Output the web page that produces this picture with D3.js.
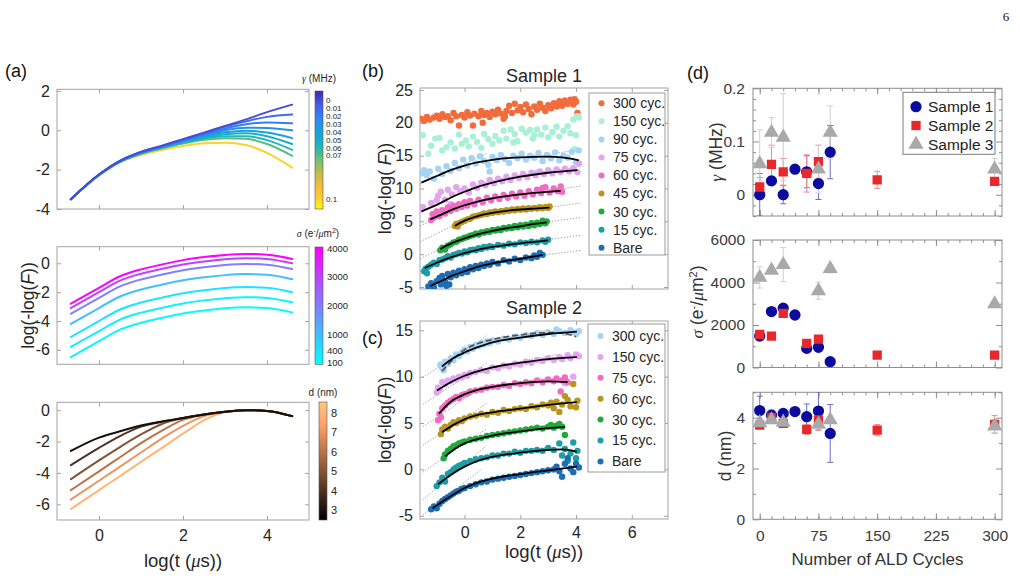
<!DOCTYPE html>
<html>
<head>
<meta charset="utf-8">
<script src="https://d3js.org/d3.v7.min.js"></script>
<style>
html,body{margin:0;padding:0;background:#fff;}
svg{display:block;}
</style>
</head>
<body>
<svg id="chart" width="1020" height="578"></svg>
<script>
// ======================= DATA =======================
const tGrid = [-0.67, 0, 0.5, 1, 1.5, 2, 2.5, 3, 3.5, 4, 4.6];

const gammaValues = [0, 0.01, 0.02, 0.03, 0.04, 0.05, 0.06, 0.07, 0.1];
const gammaTickLabels = ["0", "0.01", "0.02", "0.03", "0.04", "0.05", "0.06", "0.07", "0.1"];
const gammaCurves = [
  [-3.5, -2.25, -1.55, -1.1, -0.78, -0.45, -0.12, 0.22, 0.55, 0.92, 1.3],
  [-3.5, -2.25, -1.55, -1.1, -0.8, -0.47, -0.15, 0.17, 0.45, 0.68, 0.8],
  [-3.5, -2.25, -1.56, -1.12, -0.81, -0.5, -0.2, 0.08, 0.3, 0.4, 0.35],
  [-3.5, -2.26, -1.57, -1.13, -0.83, -0.53, -0.25, 0.0, 0.13, 0.12, 0.0],
  [-3.5, -2.26, -1.58, -1.15, -0.85, -0.56, -0.3, -0.1, -0.02, -0.12, -0.4],
  [-3.5, -2.27, -1.59, -1.17, -0.87, -0.6, -0.36, -0.2, -0.15, -0.3, -0.7],
  [-3.5, -2.27, -1.6, -1.18, -0.9, -0.63, -0.42, -0.3, -0.3, -0.5, -1.0],
  [-3.5, -2.28, -1.61, -1.2, -0.92, -0.67, -0.48, -0.4, -0.43, -0.7, -1.3],
  [-3.5, -2.3, -1.63, -1.25, -1.0, -0.8, -0.66, -0.63, -0.75, -1.15, -1.9]
];

const sigmaValues = [4000, 3000, 2000, 1000, 400, 200, 100];
const sigmaTicks = [100, 400, 1000, 2000, 3000, 4000];
const sigmaCurves = [
  [-2.8, -1.7, -0.9, -0.42, -0.08, 0.22, 0.43, 0.58, 0.65, 0.6, 0.3],
  [-3.1, -2.0, -1.2, -0.72, -0.38, -0.08, 0.13, 0.28, 0.35, 0.3, 0.0],
  [-3.5, -2.4, -1.6, -1.12, -0.78, -0.48, -0.27, -0.12, -0.05, -0.1, -0.4],
  [-4.2, -3.1, -2.3, -1.82, -1.48, -1.18, -0.97, -0.82, -0.75, -0.8, -1.1],
  [-5.1, -4.0, -3.2, -2.72, -2.38, -2.08, -1.87, -1.72, -1.65, -1.7, -2.0],
  [-5.8, -4.7, -3.9, -3.42, -3.08, -2.78, -2.57, -2.42, -2.35, -2.4, -2.7],
  [-6.5, -5.4, -4.6, -4.12, -3.78, -3.48, -3.27, -3.12, -3.05, -3.1, -3.4]
];

const thickValues = [3, 4, 5, 6, 7, 8];
const thickTicks = [3, 4, 5, 6, 7, 8];
const thickCurves = [
  [-2.6, -1.75, -1.35, -0.98, -0.72, -0.5, -0.28, -0.1, 0.0, -0.05, -0.38],
  [-3.5, -2.4, -1.65, -1.05, -0.74, -0.5, -0.28, -0.1, 0.0, -0.05, -0.38],
  [-4.4, -3.2, -2.35, -1.55, -0.88, -0.52, -0.28, -0.1, 0.0, -0.05, -0.38],
  [-5.1, -3.9, -3.0, -2.1, -1.3, -0.62, -0.3, -0.1, 0.0, -0.05, -0.38],
  [-5.7, -4.5, -3.6, -2.7, -1.8, -1.0, -0.38, -0.11, 0.0, -0.05, -0.38],
  [-6.3, -5.1, -4.2, -3.3, -2.4, -1.5, -0.65, -0.12, -0.01, -0.05, -0.38]
];

// ---- Panel (b): Sample 1 ----
const s1Labels = ["300 cyc.", "150 cyc.", "90 cyc.", "75 cyc.", "60 cyc.", "45 cyc.", "30 cyc.", "15 cyc.", "Bare"];
const s1_300 = [[-1.55,20.6],[-1.45,20.3],[-1.35,20.9],[-1.25,20.5],[-1.1,20.8],[-1.0,21.1],[-0.9,20.6],[-0.8,21.3],[-0.7,20.9],[-0.6,21.0],[-0.5,20.4],[-0.4,21.5],[-0.3,21.0],[-0.2,19.6],[-0.1,21.2],[0.0,20.8],[0.1,21.6],[0.2,21.1],[0.3,19.6],[0.35,21.4],[0.5,21.0],[0.6,21.8],[0.65,20.0],[0.7,21.2],[0.8,21.5],[0.9,20.9],[1.0,21.7],[1.1,21.3],[1.2,22.0],[1.3,21.4],[1.4,20.6],[1.45,21.0],[1.5,21.8],[1.6,22.6],[1.7,21.5],[1.8,22.9],[1.9,21.9],[2.0,22.4],[2.1,21.6],[2.2,22.8],[2.3,22.1],[2.4,21.3],[2.5,22.5],[2.6,22.0],[2.7,22.9],[2.8,22.3],[2.9,21.8],[3.0,22.7],[3.1,22.2],[3.2,23.0],[3.3,22.5],[3.4,23.3],[3.5,22.6],[3.6,23.4],[3.7,22.9],[3.8,23.5],[3.9,22.8],[3.95,23.6],[4.0,23.2],[4.05,21.5]];
const s1_150 = [[-1.5,18.1],[-1.3,15.3],[-1.2,16.5],[-1.05,17.6],[-0.9,17.7],[-0.8,15.8],[-0.65,16.3],[-0.5,17.0],[-0.35,16.1],[-0.2,18.2],[-0.1,16.8],[0.05,17.3],[0.15,16.4],[0.3,17.9],[0.45,17.1],[0.6,16.2],[0.7,18.3],[0.85,17.5],[1.0,16.8],[1.1,18.0],[1.25,17.3],[1.4,18.8],[1.5,17.6],[1.65,19.0],[1.75,17.0],[1.8,18.3],[1.9,17.2],[2.05,19.1],[2.2,18.5],[2.35,18.9],[2.45,17.6],[2.5,18.1],[2.6,19.0],[2.75,18.2],[2.9,19.3],[3.0,17.8],[3.15,18.6],[3.3,19.4],[3.4,17.9],[3.55,18.8],[3.7,19.5],[3.8,18.4],[3.9,20.5],[3.95,16.0],[4.0,18.1],[4.05,21.0],[4.1,20.8]];
const s1_90 = [[-1.55,12.3],[-1.45,12.8],[-1.35,12.0],[-1.25,12.6],[-1.1,11.5],[-0.95,13.0],[-0.8,12.2],[-0.65,13.4],[-0.5,12.7],[-0.35,13.9],[-0.2,13.1],[-0.05,14.4],[0.1,13.5],[0.25,14.6],[0.4,13.8],[0.55,14.9],[0.7,14.2],[0.85,13.6],[0.9,12.6],[1.0,14.8],[1.15,14.3],[1.3,15.1],[1.45,14.5],[1.6,13.9],[1.75,15.0],[1.9,14.6],[2.05,15.3],[2.2,14.4],[2.35,15.0],[2.5,14.7],[2.6,12.4],[2.65,15.4],[2.8,14.2],[2.95,15.1],[3.1,14.6],[3.25,15.5],[3.4,14.3],[3.55,15.0],[3.7,14.7],[3.85,15.6],[4.0,14.0],[4.1,15.8]];
const s1_75 = [[-1.6,6.8],[-1.5,7.2],[-1.2,7.8],[-1.0,8.2],[-0.95,8.9],[-0.85,9.5],[-0.7,8.3],[-0.6,9.8],[-0.5,7.6],[-0.45,9.1],[-0.3,10.2],[-0.15,9.6],[0.0,10.0],[0.15,9.4],[0.3,10.6],[0.45,10.1],[0.6,10.9],[0.75,10.5],[0.9,11.3],[1.05,10.8],[1.2,11.5],[1.35,11.1],[1.5,11.8],[1.65,11.3],[1.8,12.0],[1.95,11.6],[2.1,12.2],[2.25,11.7],[2.4,12.4],[2.55,12.0],[2.7,12.6],[2.85,12.2],[3.0,12.8],[3.15,12.3],[3.3,12.9],[3.45,12.5],[3.6,13.0],[3.75,12.6],[3.9,13.1],[4.05,12.5],[4.1,13.8]];
const s1_60 = [[-1.2,5.2],[-1.15,6.1],[-1.1,5.6],[-1.0,6.5],[-0.9,5.8],[-0.8,6.7],[-0.7,6.2],[-0.6,7.1],[-0.5,6.6],[-0.4,7.4],[-0.3,6.9],[-0.2,7.6],[-0.1,7.2],[0.0,7.9],[0.1,7.4],[0.2,8.1],[0.35,7.6],[0.5,8.3],[0.65,7.9],[0.8,8.6],[0.95,8.2],[1.1,8.8],[1.25,8.4],[1.4,9.0],[1.55,8.6],[1.7,9.2],[1.85,8.8],[2.0,9.4],[2.15,8.9],[2.3,9.6],[2.45,9.1],[2.6,9.8],[2.75,9.3],[2.8,10.1],[2.9,10.2],[3.05,9.4],[3.2,10.0],[3.35,9.6],[3.45,10.3],[3.5,9.5]];
const s1_45 = [[-0.35,4.3],[-0.3,4.6],[-0.25,4.2],[-0.2,4.7],[-0.1,4.9],[0.0,5.1],[0.1,5.3],[0.2,5.4],[0.3,5.7],[0.4,5.8],[0.5,5.9],[0.6,6.0],[0.7,6.2],[0.8,6.1],[0.9,6.35],[1.0,6.3],[1.1,6.5],[1.2,6.4],[1.3,6.55],[1.4,6.5],[1.5,6.7],[1.6,6.6],[1.7,6.8],[1.8,6.7],[1.9,6.9],[2.0,6.75],[2.1,6.95],[2.2,6.8],[2.3,7.0],[2.4,6.9],[2.5,7.05],[2.6,6.95],[2.7,7.15],[2.8,7.0],[2.9,7.2],[3.0,7.05],[3.05,7.25]];
const s1_30 = [[-0.87,0.6],[-0.8,1.0],[-0.7,0.7],[-0.6,1.3],[-0.5,1.5],[-0.4,1.8],[-0.3,1.9],[-0.2,2.2],[-0.1,2.3],[0.0,2.5],[0.1,2.6],[0.2,2.8],[0.3,2.9],[0.4,3.1],[0.5,3.0],[0.6,3.3],[0.7,3.3],[0.8,3.5],[0.9,3.4],[1.0,3.7],[1.1,3.6],[1.2,3.8],[1.3,3.7],[1.4,4.0],[1.5,3.9],[1.6,4.1],[1.7,4.0],[1.8,4.3],[1.9,4.1],[2.0,4.4],[2.1,4.2],[2.2,4.5],[2.3,4.3],[2.4,4.7],[2.5,4.4],[2.6,4.8],[2.7,4.6],[2.8,5.1],[2.9,4.7],[2.95,5.0]];
const s1_15 = [[-1.45,-2.6],[-1.4,-2.2],[-1.35,-2.9],[-1.3,-1.9],[-1.2,-1.6],[-1.1,-1.3],[-1.0,-1.5],[-0.9,-0.9],[-0.8,-0.8],[-0.7,-0.6],[-0.6,-0.3],[-0.5,-0.5],[-0.4,-0.1],[-0.3,0.0],[-0.2,0.2],[-0.1,0.1],[0.0,0.4],[0.1,0.3],[0.2,0.6],[0.3,0.7],[0.4,0.6],[0.5,0.9],[0.6,0.8],[0.7,1.1],[0.8,1.0],[0.9,1.2],[1.0,1.1],[1.2,1.4],[1.4,1.3],[1.6,1.6],[1.8,1.5],[2.0,1.8],[2.2,1.7],[2.4,1.9],[2.6,1.8],[2.8,2.1],[2.9,1.9],[3.0,2.2]];
const s1_bare = [[-1.3,-4.9],[-1.2,-4.4],[-1.1,-5.0],[-1.0,-4.1],[-0.9,-3.6],[-0.85,-4.6],[-0.8,-3.3],[-0.7,-4.2],[-0.65,-4.8],[-0.6,-3.0],[-0.55,-4.6],[-0.5,-3.5],[-0.4,-2.8],[-0.3,-3.2],[-0.2,-2.5],[-0.1,-2.9],[0.0,-2.3],[0.1,-2.7],[0.2,-2.0],[0.3,-2.3],[0.4,-1.8],[0.5,-2.1],[0.6,-1.6],[0.7,-1.8],[0.8,-1.4],[0.9,-1.6],[1.0,-1.2],[1.2,-1.4],[1.4,-0.9],[1.6,-1.1],[1.8,-0.7],[2.0,-0.9],[2.2,-0.5],[2.4,-0.6],[2.5,-0.2],[2.6,-0.4],[2.7,0.2],[2.8,-0.1]];

const f1_90 = [[-1.55,10.9],[-1,11.9],[-0.5,12.8],[0,13.5],[0.5,14.0],[1,14.35],[2,14.75],[3,14.85],[3.5,14.75],[4.1,14.3]];
const f1_75 = [[-1.55,6.5],[-1,7.5],[-0.5,8.6],[0,9.5],[0.5,10.3],[1,10.9],[2,11.8],[3,12.4],[4.05,12.8]];
const f1_60 = [[-1.23,5.3],[-0.8,6.1],[-0.4,6.85],[0,7.45],[0.5,8.05],[1,8.5],[2,9.1],[3,9.5],[3.45,9.65]];
const f1_45 = [[-0.35,4.3],[0,5.1],[0.5,5.85],[1,6.3],[1.5,6.6],[2,6.8],[2.5,6.95],[3.05,7.1]];
const f1_30 = [[-0.87,0.8],[-0.5,1.6],[0,2.4],[0.5,3.05],[1,3.55],[1.5,3.95],[2,4.25],[2.5,4.6],[2.95,4.85]];
const f1_15 = [[-1.43,-2.1],[-1,-1.3],[-0.5,-0.5],[0,0.15],[0.5,0.7],[1,1.1],[2,1.65],[3,2.1]];
const f1_bare = [[-1.23,-4.85],[-0.8,-4.0],[-0.4,-3.2],[0,-2.6],[0.5,-1.9],[1,-1.4],[1.5,-1.0],[2,-0.7],[2.5,-0.35],[2.8,-0.1]];
const a1Lines = [
  [-1.6,10.7,0.8,15.3],[2.2,14.6,4.2,16.0],
  [-1.6,6.3,0.6,10.8],[2.2,11.9,4.2,13.4],
  [-1.6,4.3,0.5,8.4],[2.2,9.1,4.2,10.4],
  [-1.6,1.9,0.6,6.4],[2.8,7.0,4.2,7.8],
  [-1.6,-0.7,0.5,3.7],[2.6,4.7,4.2,5.6],
  [-1.6,-2.6,0.4,1.2],[2.6,2.0,4.2,2.9],
  [-1.6,-5.6,0.5,-1.6],[2.4,-0.4,4.2,0.6]
];

// ---- Panel (c): Sample 2 ----
const s2Labels = ["300 cyc.", "150 cyc.", "75 cyc.", "60 cyc.", "30 cyc.", "15 cyc.", "Bare"];
const s2_300 = [[-0.87,11.3],[-0.8,10.9],[-0.75,10.7],[-0.7,11.6],[-0.6,11.4],[-0.5,12.0],[-0.4,11.8],[-0.3,12.4],[-0.2,12.2],[-0.1,12.6],[0.0,12.9],[0.1,12.7],[0.2,13.2],[0.3,13.0],[0.4,13.4],[0.5,13.3],[0.6,13.6],[0.7,13.5],[0.8,13.8],[0.9,13.6],[1.0,13.9],[1.2,13.8],[1.4,14.1],[1.6,14.0],[1.8,14.3],[2.0,14.2],[2.2,14.5],[2.4,14.4],[2.6,14.7],[2.8,14.5],[3.0,14.8],[3.2,14.6],[3.3,15.1],[3.4,14.9],[3.6,14.7],[3.8,15.0],[3.9,14.8],[4.0,14.6],[4.1,14.9]];
const s2_150 = [[-1.0,8.3],[-0.95,8.8],[-0.9,8.6],[-0.8,9.4],[-0.7,9.2],[-0.6,9.6],[-0.5,9.5],[-0.4,9.8],[-0.3,9.7],[-0.2,10.0],[-0.1,9.9],[0.0,10.2],[0.1,10.1],[0.2,10.4],[0.4,10.5],[0.6,10.7],[0.8,10.6],[1.0,11.0],[1.2,10.9],[1.4,11.2],[1.6,11.1],[1.8,11.4],[2.0,11.3],[2.2,11.6],[2.4,11.5],[2.6,11.8],[2.8,11.7],[3.0,12.0],[3.2,11.8],[3.4,12.1],[3.5,11.9],[3.6,9.3],[3.7,12.3],[3.8,12.0],[3.9,10.0],[4.0,12.4],[4.1,12.2]];
const s2_75 = [[-0.95,5.3],[-0.9,6.0],[-0.85,5.6],[-0.8,6.6],[-0.7,6.9],[-0.6,7.2],[-0.5,7.4],[-0.4,7.6],[-0.3,7.8],[-0.2,7.7],[-0.1,8.0],[0.0,8.1],[0.1,8.2],[0.2,8.4],[0.4,8.5],[0.6,8.6],[0.8,8.8],[1.0,8.9],[1.2,8.9],[1.4,9.1],[1.6,9.0],[1.8,9.3],[2.0,9.2],[2.2,9.4],[2.4,9.3],[2.6,9.6],[2.8,9.4],[3.0,9.7],[3.2,9.5],[3.3,9.8],[3.45,8.4],[3.5,9.6],[3.6,9.9],[3.7,9.4]];
const s2_60 = [[-0.85,3.8],[-0.8,4.3],[-0.7,4.6],[-0.6,4.4],[-0.5,4.8],[-0.4,5.1],[-0.3,5.0],[-0.2,5.3],[-0.1,5.2],[0.0,5.5],[0.2,5.7],[0.4,5.8],[0.6,6.0],[0.8,5.9],[1.0,6.2],[1.2,6.1],[1.4,6.4],[1.6,6.3],[1.8,6.5],[2.0,6.6],[2.2,6.5],[2.4,6.8],[2.6,6.7],[2.8,7.0],[3.0,6.9],[3.1,7.2],[3.2,6.6],[3.3,7.3],[3.4,6.2],[3.5,7.0],[3.6,7.9],[3.7,7.5],[3.8,6.8],[3.9,9.2],[4.0,6.7],[4.05,7.4]];
const s2_30 = [[-0.75,1.2],[-0.7,1.6],[-0.6,2.0],[-0.5,2.2],[-0.4,2.5],[-0.3,2.6],[-0.2,2.8],[-0.1,2.9],[0.0,3.0],[0.2,3.2],[0.4,3.3],[0.6,3.4],[0.8,3.6],[1.0,3.7],[1.2,3.8],[1.4,3.9],[1.6,4.0],[1.8,4.1],[2.0,4.2],[2.2,4.3],[2.4,4.4],[2.6,4.5],[2.8,4.4],[3.0,4.6],[3.1,4.8],[3.2,4.5],[3.3,4.7],[3.4,4.9],[3.5,4.6],[3.6,3.7]];
const s2_15 = [[-1.0,-1.8],[-0.9,-1.4],[-0.8,-0.9],[-0.7,-1.3],[-0.6,-0.5],[-0.5,-0.3],[-0.4,0.0],[-0.3,0.2],[-0.2,0.4],[-0.1,0.5],[0.0,0.7],[0.2,0.9],[0.4,1.1],[0.6,1.2],[0.8,1.3],[1.0,1.5],[1.2,1.5],[1.4,1.7],[1.6,1.7],[1.8,1.9],[2.0,1.8],[2.2,2.0],[2.4,2.0],[2.6,2.1],[2.8,2.0],[3.0,2.3],[3.2,2.1],[3.4,2.8],[3.5,1.5],[3.6,2.2],[3.7,0.9],[3.8,1.7],[3.9,2.9],[4.0,1.2],[4.05,2.0]];
const s2_bare = [[-1.2,-4.3],[-1.1,-4.0],[-1.0,-4.2],[-0.9,-3.7],[-0.8,-3.4],[-0.7,-3.2],[-0.6,-3.0],[-0.5,-2.8],[-0.4,-2.6],[-0.3,-2.4],[-0.2,-2.3],[-0.1,-2.1],[0.0,-2.0],[0.2,-1.8],[0.4,-1.6],[0.6,-1.4],[0.8,-1.3],[1.0,-1.1],[1.2,-1.0],[1.4,-0.9],[1.6,-0.8],[1.8,-0.7],[2.0,-0.6],[2.2,-0.5],[2.4,-0.4],[2.6,-0.3],[2.8,-0.2],[3.0,-0.1],[3.2,0.0],[3.3,0.3],[3.4,-0.2],[3.5,-0.8],[3.6,0.6],[3.7,1.2],[3.8,0.1],[3.9,-0.3],[4.0,0.6],[4.1,0.2]];

const f2_300 = [[-0.81,11.1],[-0.4,12.0],[0,12.6],[0.5,13.2],[1,13.7],[2,14.2],[3,14.6],[4.03,14.85]];
const f2_300dash = [[-0.81,10.6],[-0.4,11.9],[0,12.9],[0.5,13.6],[1,14.0],[2,14.5],[3,14.75],[3.5,14.7],[4.0,14.3]];
const f2_150 = [[-0.99,8.5],[-0.5,9.4],[0,10.1],[0.5,10.6],[1,11.0],[2,11.5],[3,11.9],[4.03,12.1]];
const f2_75 = [[-0.92,6.0],[-0.5,7.3],[0,8.1],[0.5,8.6],[1,8.9],[2,9.3],[3,9.5],[3.7,9.4]];
const f2_60 = [[-0.81,4.0],[-0.4,4.8],[0,5.4],[0.5,5.9],[1,6.15],[2,6.55],[3,6.95],[4.03,7.25]];
const f2_30 = [[-0.7,1.4],[-0.3,2.3],[0,2.8],[0.5,3.3],[1,3.65],[2,4.1],[3,4.45],[3.6,4.55]];
const f2_15 = [[-0.95,-1.6],[-0.5,-0.6],[0,0.3],[0.5,0.95],[1,1.35],[2,1.8],[3,2.1],[3.5,2.15],[4.03,1.9]];
const f2_bare = [[-1.15,-4.2],[-0.5,-2.9],[0,-2.0],[0.5,-1.4],[1,-1.0],[2,-0.5],[3,-0.1],[4.03,0.3]];
const a2Lines = [
  [-1.5,9.9,0.8,14.4],[0.2,13.3,3.0,15.1],
  [-1.5,7.0,0.8,11.5],[0.4,10.7,3.3,12.4],
  [-1.5,4.6,0.8,9.2],[0.2,8.5,3.0,9.9],
  [-1.5,2.6,0.8,7.1],[0.2,5.8,3.0,7.2],
  [-1.5,-0.3,0.8,4.4],[0.2,3.2,3.0,4.8],
  [-1.5,-3.3,0.8,2.6],[0.2,0.9,3.0,2.4],
  [-1.5,-4.9,0.6,0.0],[0.2,-1.6,3.0,0.1]
];

// ---- Panel (d) ----
const cycles1 = [0, 15, 30, 45, 60, 75, 90];
const gamma1 = [0.0, 0.026, 0.0, 0.048, 0.043, 0.021, 0.08];
const gamma1Err = [0.04, 0.008, 0.017, 0.005, 0.03, 0.03, 0.05];
const sigma1 = [1480, 2630, 2790, 2470, 900, 950, 270];
const sigma1Err = [80, 80, 80, 80, 80, 80, 80];
const thick1 = [4.28, 4.1, 4.17, 4.24, 4.04, 4.26, 3.38];
const thick1Err = [0.57, 0.2, 0.1, 0.05, 0.5, 0.75, 1.14];

const cycles2 = [0, 15, 30, 60, 75, 150, 300];
const gamma2 = [0.0145, 0.057, 0.043, 0.04, 0.062, 0.028, 0.025];
const gamma2Err = [0.018, 0.036, 0.025, 0.035, 0.031, 0.016, 0.004];
const sigma2 = [1560, 1480, 2550, 1130, 1340, 580, 580];
const sigma2Err = [60, 60, 60, 60, 60, 60, 60];
const thick2 = [3.71, 4.01, 3.78, 3.54, 3.91, 3.51, 3.74];
const thick2Err = [0.1, 0.1, 0.15, 0.2, 0.4, 0.22, 0.35];

const cycles3 = [0, 15, 30, 75, 90, 300];
const gamma3 = [0.058, 0.117, 0.108, 0.048, 0.117, 0.048];
const gamma3Err = [0.064, 0.028, 0.082, 0.045, 0.05, 0.02];
const sigma3 = [4240, 4570, 4840, 3610, 4650, 2990];
const sigma3Err = [500, 80, 800, 400, 200, 100];
const thick3 = [3.8, 3.91, 3.82, 3.74, 3.91, 3.67];
const thick3Err = [0.1, 0.1, 0.2, 0.1, 0.1, 0.25];
const sampleNames = ["Sample 1", "Sample 2", "Sample 3"];

// ======================= STYLE / HELPERS =======================
const FONT = "'Liberation Sans', Arial, Helvetica, sans-serif";
const SERIF = "'Liberation Serif', 'DejaVu Serif', 'Times New Roman', serif";
const TXT = "#262626";
const svg = d3.select("#chart");
const defs = svg.append("defs");

function styleAx(s, stroke, fill, fs) {
  s.select(".domain").remove();
  s.selectAll(".tick line").attr("stroke", stroke).attr("stroke-width", 1);
  s.selectAll(".tick text").attr("fill", fill).attr("font-size", fs).attr("font-family", FONT);
}
const fmtPlain = d => String(d);
const noLab = () => "";

function matlabAxes(x, y, xt, yt, showX, padX) {
  const g = svg.append("g");
  const [xa, xb] = x.range(), [yb, ya] = y.range();
  const st = "#a3a3a3";
  const fs = 16;
  g.append("g").attr("transform", `translate(0,${yb})`)
    .call(d3.axisBottom(x).tickValues(xt).tickSize(-4).tickPadding(padX || 9).tickFormat(showX ? fmtPlain : noLab))
    .call(s => styleAx(s, st, TXT, fs));
  g.append("g").attr("transform", `translate(0,${ya})`)
    .call(d3.axisTop(x).tickValues(xt).tickSize(-4).tickFormat(noLab)).call(s => styleAx(s, st, TXT, fs));
  g.append("g").attr("transform", `translate(${xa},0)`)
    .call(d3.axisLeft(y).tickValues(yt).tickSize(-4).tickPadding(7).tickFormat(fmtPlain))
    .call(s => styleAx(s, st, TXT, fs));
  g.append("g").attr("transform", `translate(${xb},0)`)
    .call(d3.axisRight(y).tickValues(yt).tickSize(-4).tickFormat(noLab)).call(s => styleAx(s, st, TXT, fs));
  g.append("rect").attr("x", xa).attr("y", ya).attr("width", xb - xa).attr("height", yb - ya)
    .attr("fill", "none").attr("stroke", st).attr("stroke-width", 1);
  return g;
}

function mmaAxes(x, y, xMaj, xMin, yMaj, yMin, showX, yFmt) {
  const g = svg.append("g");
  const [xa, xb] = x.range(), [yb, ya] = y.range();
  const st = "#8e8e8e";
  const add = (tr, axis) => g.append("g").attr("transform", tr).call(axis).call(s => styleAx(s, st, "#3a3a3a", 15.5));
  add(`translate(0,${yb})`, d3.axisBottom(x).tickValues(xMin).tickSize(-3).tickFormat(noLab));
  add(`translate(0,${yb})`, d3.axisBottom(x).tickValues(xMaj).tickSize(-6).tickPadding(11).tickFormat(showX ? fmtPlain : noLab));
  add(`translate(0,${ya})`, d3.axisTop(x).tickValues(xMin).tickSize(-3).tickFormat(noLab));
  add(`translate(0,${ya})`, d3.axisTop(x).tickValues(xMaj).tickSize(-6).tickFormat(noLab));
  add(`translate(${xa},0)`, d3.axisLeft(y).tickValues(yMin).tickSize(-3).tickFormat(noLab));
  add(`translate(${xa},0)`, d3.axisLeft(y).tickValues(yMaj).tickSize(-6).tickPadding(8).tickFormat(yFmt));
  add(`translate(${xb},0)`, d3.axisRight(y).tickValues(yMin).tickSize(-3).tickFormat(noLab));
  add(`translate(${xb},0)`, d3.axisRight(y).tickValues(yMaj).tickSize(-6).tickFormat(noLab));
  g.append("rect").attr("x", xa).attr("y", ya).attr("width", xb - xa).attr("height", yb - ya)
    .attr("fill", "none").attr("stroke", st).attr("stroke-width", 1);
  return g;
}

function richText(parent, x, y, parts, opts) {
  const t = parent.append("text")
    .attr("transform", opts.rotate ? `translate(${x},${y}) rotate(-90)` : `translate(${x},${y})`)
    .attr("text-anchor", opts.anchor || "middle")
    .attr("font-size", opts.fs).attr("font-family", FONT).attr("fill", opts.fill || TXT);
  parts.forEach(p => {
    const ts = t.append("tspan").text(p.t);
    if (p.i) ts.attr("font-style", "italic");
    if (p.serif) ts.attr("font-family", SERIF);
    if (p.fs) ts.attr("font-size", p.fs);
    if (p.dy) ts.attr("dy", p.dy);
  });
  return t;
}

function clipRect(id, x, y) {
  const [xa, xb] = x.range(), [yb, ya] = y.range();
  defs.append("clipPath").attr("id", id).append("rect")
    .attr("x", xa).attr("y", ya).attr("width", xb - xa).attr("height", yb - ya);
  return `url(#${id})`;
}

function gradient(id, fn, n) {
  const gr = defs.append("linearGradient").attr("id", id)
    .attr("x1", 0).attr("y1", 0).attr("x2", 0).attr("y2", 1);
  for (let k = 0; k <= n; k++) gr.append("stop").attr("offset", k / n).attr("stop-color", fn(k / n));
  return `url(#${id})`;
}

// ======================= PANEL (a) =======================
const xA = d3.scaleLinear().domain([-1, 5]).range([57, 309]);
const yA1 = d3.scaleLinear().domain([-4, 2.08]).range([209, 89.3]);
const yA2 = d3.scaleLinear().domain([-7, 1.15]).range([364.3, 246.7]);
const yA3 = d3.scaleLinear().domain([-7, 0.5]).range([520, 402.3]);

const parula = d3.scaleLinear()
  .domain([0, 0.12, 0.25, 0.37, 0.45, 0.52, 0.58, 0.7, 0.8, 0.9, 1])
  .range(["#3e26a8", "#4a5cf0", "#2a8cec", "#15a6d8", "#18b3c4", "#3dba9c", "#72bf72", "#c2bd4a", "#f4bb3c", "#fccb30", "#f9f90f"])
  .interpolate(d3.interpolateRgb);
const gammaFrac = d3.scaleLinear().domain([0, 0.07, 0.1]).range([0.082, 0.548, 0.918]);
const coolColor = t => d3.rgb(255 * t, 255 * (1 - t), 255).formatHex();
const sigmaT = d3.scaleLinear().domain([0, 4000]).range([0, 1]);
const copperColor = t => d3.rgb(Math.min(255, 255 * 1.25 * t), 255 * 0.7812 * t, 255 * 0.4975 * t).formatHex();
const thickT = d3.scaleLinear().domain([2.5, 8.55]).range([0, 1]);

const lineA = y => d3.line().x(d => xA(d[0])).y(d => y(d[1])).curve(d3.curveMonotoneX);
const toPts = arr => tGrid.map((t, i) => [t, arr[i]]);

matlabAxes(xA, yA1, [0, 2, 4], [-4, -2, 0, 2], false);
matlabAxes(xA, yA2, [0, 2, 4], [-6, -4, -2, 0], false);
matlabAxes(xA, yA3, [0, 2, 4], [-6, -4, -2, 0], true, 10);

const gA = svg.append("g").attr("fill", "none").attr("stroke-width", 2).attr("stroke-linecap", "round");
for (let i = gammaCurves.length - 1; i >= 0; i--)
  gA.append("path").attr("d", lineA(yA1)(toPts(gammaCurves[i]))).attr("stroke", parula(gammaFrac(gammaValues[i])));
for (let i = sigmaCurves.length - 1; i >= 0; i--)
  gA.append("path").attr("d", lineA(yA2)(toPts(sigmaCurves[i]))).attr("stroke", coolColor(sigmaT(sigmaValues[i])));
for (let i = thickCurves.length - 1; i >= 0; i--)
  gA.append("path").attr("d", lineA(yA3)(toPts(thickCurves[i]))).attr("stroke", copperColor(thickT(thickValues[i])));

// colorbars
const cb1 = {x: 315, y: 91, w: 8, h: 118};
svg.append("rect").attr("x", cb1.x).attr("y", cb1.y).attr("width", cb1.w).attr("height", cb1.h)
  .attr("fill", gradient("gParula", t => parula(t), 40)).attr("stroke", "#555").attr("stroke-width", 0.6);
gammaValues.forEach((v, i) => {
  svg.append("text").attr("x", cb1.x + 11).attr("y", cb1.y + gammaFrac(v) * cb1.h).attr("dy", "0.35em")
    .attr("font-size", 8).attr("font-family", FONT).attr("fill", TXT).text(gammaTickLabels[i]);
});
richText(svg, 319, 82, [{t: "γ", i: 1, serif: 1}, {t: " (MHz)"}], {fs: 10});

const cb2 = {x: 315, y: 247, w: 8, h: 117.3};
const ySig = d3.scaleLinear().domain([0, 4000]).range([cb2.y + cb2.h, cb2.y]);
svg.append("rect").attr("x", cb2.x).attr("y", cb2.y).attr("width", cb2.w).attr("height", cb2.h)
  .attr("fill", gradient("gCool", t => coolColor(1 - t), 10)).attr("stroke", "#555").attr("stroke-width", 0.6);
sigmaTicks.forEach(v => {
  const nudge = v === 4000 ? 2 : v === 400 ? -1.5 : v === 100 ? 1 : 0;
  svg.append("text").attr("x", cb2.x + 12).attr("y", ySig(v) + nudge).attr("dy", "0.35em")
    .attr("font-size", 9.5).attr("font-family", FONT).attr("fill", TXT).text(v);
});
richText(svg, 318, 237, [{t: "σ", i: 1, serif: 1}, {t: " (e"}, {t: "-", fs: "7px", dy: "-4"}, {t: "/", dy: "4"}, {t: "μ", i: 1, serif: 1}, {t: "m"}, {t: "2", fs: "7px", dy: "-4"}, {t: ")", dy: "4"}], {fs: 10});

const cb3 = {x: 319, y: 402, w: 8, h: 118};
const yThickCb = d3.scaleLinear().domain([2.5, 8.55]).range([cb3.y + cb3.h, cb3.y]);
svg.append("rect").attr("x", cb3.x).attr("y", cb3.y).attr("width", cb3.w).attr("height", cb3.h)
  .attr("fill", gradient("gCopper", t => copperColor(1 - t), 10)).attr("stroke", "#555").attr("stroke-width", 0.6);
thickTicks.forEach(v => {
  svg.append("text").attr("x", cb3.x + 12).attr("y", yThickCb(v)).attr("dy", "0.35em")
    .attr("font-size", 11).attr("font-family", FONT).attr("fill", TXT).text(v);
});
richText(svg, 323, 396, [{t: "d (nm)"}], {fs: 10});

richText(svg, 34, 305.5, [{t: "log(-log("}, {t: "F", i: 1}, {t: "))"}], {fs: 17.5, rotate: true});
richText(svg, 183, 567, [{t: "log(t ("}, {t: "μ", i: 1, serif: 1}, {t: "s))"}], {fs: 18.5});

// ======================= PANELS (b) and (c) =======================
const palette = {
  orange: "#f26b3b", mint: "#aaf0d6", lightblue: "#a6d3f5", violet: "#e4a5ef",
  pink: "#ef6cc2", gold: "#b8951f", green: "#21a93d", teal: "#1b9ea6", blue: "#1d6db4"
};
const xB = d3.scaleLinear().domain([-1.6, 7.3]).range([420, 668]);
const yB = d3.scaleLinear().domain([-5.3, 25.3]).range([289, 88]);
const yC = d3.scaleLinear().domain([-5.35, 16]).range([519, 321]);

function scatterPanel(y, series, fits, dashed, asym, clipId, legend) {
  const cp = clipRect(clipId, xB, y);
  const g = svg.append("g").attr("clip-path", cp);
  const ln = d3.line().x(d => xB(d[0])).y(d => y(d[1])).curve(d3.curveMonotoneX);
  g.selectAll("line.asym").data(asym).join("line").attr("class", "asym")
    .attr("x1", d => xB(d[0])).attr("y1", d => y(d[1])).attr("x2", d => xB(d[2])).attr("y2", d => y(d[3]))
    .attr("stroke", "#9a9a9a").attr("stroke-width", 1).attr("stroke-dasharray", "1.2,1.8");
  series.forEach(s => {
    g.append("g").selectAll("circle").data(s.pts).join("circle")
      .attr("cx", d => xB(d[0])).attr("cy", d => y(d[1])).attr("r", 3.2).attr("fill", s.color);
  });
  if (dashed) g.append("path").attr("d", ln(dashed)).attr("fill", "none").attr("stroke", "#555")
    .attr("stroke-width", 1.8).attr("stroke-dasharray", "6,3");
  fits.forEach(f => g.append("path").attr("d", ln(f)).attr("fill", "none").attr("stroke", "#000").attr("stroke-width", 1.8));
  const lg = svg.append("g");
  lg.append("rect").attr("x", legend.x).attr("y", legend.y).attr("width", legend.w).attr("height", legend.h)
    .attr("fill", "#fff").attr("stroke", "#9a9a9a").attr("stroke-width", 1);
  series.forEach((s, i) => {
    const yy = legend.y0 + i * legend.dy;
    lg.append("circle").attr("cx", legend.x + 12.5).attr("cy", yy).attr("r", 3).attr("fill", s.color);
    lg.append("text").attr("x", legend.x + 24).attr("y", yy).attr("dy", "0.35em").attr("font-size", 14)
      .attr("font-family", FONT).attr("fill", TXT).text(s.label);
  });
}

matlabAxes(xB, yB, [0, 2, 4, 6], [-5, 0, 5, 10, 15, 20, 25], false);
scatterPanel(yB, [
  {label: s1Labels[0], color: palette.orange, pts: s1_300},
  {label: s1Labels[1], color: palette.mint, pts: s1_150},
  {label: s1Labels[2], color: palette.lightblue, pts: s1_90},
  {label: s1Labels[3], color: palette.violet, pts: s1_75},
  {label: s1Labels[4], color: palette.pink, pts: s1_60},
  {label: s1Labels[5], color: palette.gold, pts: s1_45},
  {label: s1Labels[6], color: palette.green, pts: s1_30},
  {label: s1Labels[7], color: palette.teal, pts: s1_15},
  {label: s1Labels[8], color: palette.blue, pts: s1_bare}
], [f1_90, f1_75, f1_60, f1_45, f1_30, f1_15, f1_bare], null, a1Lines, "clipB",
  {x: 589, y: 93, w: 76, h: 162, y0: 103.3, dy: 18.05});

matlabAxes(xB, yC, [0, 2, 4, 6], [-5, 0, 5, 10, 15], true, 8);
scatterPanel(yC, [
  {label: s2Labels[0], color: palette.lightblue, pts: s2_300},
  {label: s2Labels[1], color: palette.violet, pts: s2_150},
  {label: s2Labels[2], color: palette.pink, pts: s2_75},
  {label: s2Labels[3], color: palette.gold, pts: s2_60},
  {label: s2Labels[4], color: palette.green, pts: s2_30},
  {label: s2Labels[5], color: palette.teal, pts: s2_15},
  {label: s2Labels[6], color: palette.blue, pts: s2_bare}
], [f2_300, f2_150, f2_75, f2_60, f2_30, f2_15, f2_bare], f2_300dash, a2Lines, "clipC",
  {x: 588, y: 324, w: 77, h: 148, y0: 336, dy: 20.9});

richText(svg, 544, 82, [{t: "Sample 1"}], {fs: 18});
richText(svg, 544, 314, [{t: "Sample 2"}], {fs: 18});
richText(svg, 391, 188.5, [{t: "log(-log( "}, {t: "F", i: 1}, {t: "))"}], {fs: 17.5, rotate: true});
richText(svg, 391, 420, [{t: "log(-log("}, {t: "F", i: 1}, {t: "))"}], {fs: 17.5, rotate: true});
richText(svg, 544, 558, [{t: "log(t ("}, {t: "μ", i: 1, serif: 1}, {t: "s))"}], {fs: 18.5});

// ======================= PANEL (d) =======================
const xD = d3.scaleLinear().domain([-8.6, 309.4]).range([753, 1002]);
const yD1 = d3.scaleLinear().domain([-0.04, 0.2]).range([216, 88.3]);
const yD2 = d3.scaleLinear().domain([0, 6000]).range([367.5, 240]);
const yD3 = d3.scaleLinear().domain([0, 5]).range([519.3, 392.3]);
const xMaj = [0, 75, 150, 225, 300];
const xMin = d3.range(0, 301, 15);

mmaAxes(xD, yD1, xMaj, xMin, [0, 0.1, 0.2], [-0.04, -0.02, 0.02, 0.04, 0.06, 0.08, 0.12, 0.14, 0.16, 0.18], false,
  d => d === 0 ? "0" : d3.format(".1f")(d));
mmaAxes(xD, yD2, xMaj, xMin, [0, 2000, 4000, 6000], [1000, 3000, 5000], false, fmtPlain);
mmaAxes(xD, yD3, xMaj, xMin, [0, 2, 4], [1, 3, 5], true, fmtPlain);

const mk = {
  s1: {color: "#0b0b9e", err: "#6e6ec8", sym: d3.symbolCircle, size: 100},
  s2: {color: "#e8282b", err: "#f08a8a", sym: d3.symbolSquare, size: 86},
  s3: {color: "#a9a9a9", err: "#cfcfcf", sym: d3.symbolTriangle, size: 100}
};
function drawD(y, sets, id) {
  const cp = clipRect(id, xD, y);
  const layer = svg.append("g").attr("clip-path", cp);
  const marks = [];
  sets.forEach(s => {
    const data = s.xs.map((x, i) => ({x, y: s.ys[i], e: s.es[i]}));
    data.forEach(d => {
      const cx = xD(d.x), top = y(d.y + d.e), bot = y(d.y - d.e);
      layer.append("line").attr("x1", cx).attr("x2", cx).attr("y1", top).attr("y2", bot).attr("stroke", s.m.err).attr("stroke-width", 1);
      [top, bot].forEach(yy => layer.append("line").attr("x1", cx - 3).attr("x2", cx + 3).attr("y1", yy).attr("y2", yy)
        .attr("stroke", s.m.err).attr("stroke-width", 1));
    });
    marks.push({data, m: s.m});
  });
  marks.forEach(({data, m}) => {
    layer.append("g").selectAll("path").data(data).join("path")
      .attr("transform", d => `translate(${xD(d.x)},${y(d.y)})`)
      .attr("d", d3.symbol(m.sym, m.size)).attr("fill", m.color);
  });
}
drawD(yD1, [
  {xs: cycles1, ys: gamma1, es: gamma1Err, m: mk.s1},
  {xs: cycles2, ys: gamma2, es: gamma2Err, m: mk.s2},
  {xs: cycles3, ys: gamma3, es: gamma3Err, m: mk.s3}
], "clipD1");
drawD(yD2, [
  {xs: cycles1, ys: sigma1, es: sigma1Err, m: mk.s1},
  {xs: cycles2, ys: sigma2, es: sigma2Err, m: mk.s2},
  {xs: cycles3, ys: sigma3, es: sigma3Err, m: mk.s3}
], "clipD2");
drawD(yD3, [
  {xs: cycles1, ys: thick1, es: thick1Err, m: mk.s1},
  {xs: cycles2, ys: thick2, es: thick2Err, m: mk.s2},
  {xs: cycles3, ys: thick3, es: thick3Err, m: mk.s3}
], "clipD3");

const lgD = svg.append("g");
lgD.append("rect").attr("x", 903).attr("y", 92.3).attr("width", 92).attr("height", 62)
  .attr("fill", "#fff").attr("stroke", "#7a7a7a").attr("stroke-width", 1);
[mk.s1, mk.s2, mk.s3].forEach((m, i) => {
  const yy = 106.7 + i * 18.8;
  lgD.append("path").attr("transform", `translate(916,${yy})`).attr("d", d3.symbol(m.sym, m.size)).attr("fill", m.color);
  lgD.append("text").attr("x", 928).attr("y", yy).attr("dy", "0.35em").attr("font-size", 15.5)
    .attr("font-family", FONT).attr("fill", "#222").text(sampleNames[i]);
});

richText(svg, 722, 152, [{t: "γ", i: 1, serif: 1}, {t: " (MHz)"}], {fs: 17.5, rotate: true, fill: "#333"});
richText(svg, 703, 302, [{t: "σ", i: 1, serif: 1}, {t: " (e"}, {t: "-", fs: "11px", dy: "-6"}, {t: "/", dy: "6"}, {t: "μ", i: 1, serif: 1}, {t: "m"}, {t: "2", fs: "11px", dy: "-6"}, {t: ")", dy: "6"}], {fs: 17.5, rotate: true, fill: "#333"});
richText(svg, 731, 456, [{t: "d (nm)"}], {fs: 17.5, rotate: true, fill: "#333"});
richText(svg, 877.5, 565, [{t: "Number of ALD Cycles"}], {fs: 17, fill: "#333"});

[["(a)", 5, 77], ["(b)", 362, 77], ["(c)", 362, 344], ["(d)", 687, 79]].forEach(([t, x, y]) => {
  svg.append("text").attr("x", x).attr("y", y).attr("font-size", 18).attr("font-family", FONT).attr("fill", "#111").text(t);
});
svg.append("text").attr("x", 1006).attr("y", 21).attr("text-anchor", "middle").attr("font-size", 13)
  .attr("font-family", SERIF).attr("fill", "#111").text("6");
</script>
</body>
</html>
